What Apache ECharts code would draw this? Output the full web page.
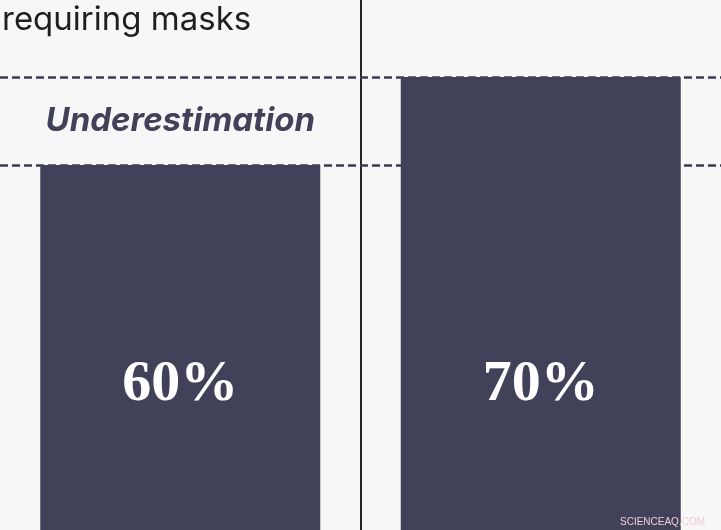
<!DOCTYPE html>
<html>
<head>
<meta charset="utf-8">
<script src="https://cdn.jsdelivr.net/npm/echarts@6/dist/echarts.min.js"></script>
<style>
html,body{margin:0;padding:0;background:#f7f7f7;}
#chart{width:721px;height:530px;}
</style>
</head>
<body>
<div id="chart"></div>
<script>
var categories = ['Estimate', 'Actual'];
var barValues = [60, 70];
var guideValues = [60, 70];
var annotationText = 'Underestimation';
var annotationValue = [65];
var titleText = 'requiring masks';
var watermark = 'SCIENCEAQ.COM';

var chart = echarts.init(document.getElementById('chart'));
chart.setOption({
  backgroundColor: '#f7f7f7',
  animation: false,
  title: {
    text: titleText,
    left: 2,
    top: 1,
    padding: 0,
    textStyle: {
      fontFamily: 'Inter',
      fontWeight: 'normal',
      fontSize: 33,
      lineHeight: 38,
      color: '#1f1f1f'
    }
  },
  grid: { left: 0, right: 0, top: 0, bottom: 0 },
  xAxis: {
    type: 'category',
    data: categories,
    axisLine: { show: false },
    axisTick: { show: false },
    axisLabel: { show: false },
    splitLine: {
      show: true,
      showMinLine: false,
      showMaxLine: false,
      lineStyle: { color: '#262626', width: 2 }
    }
  },
  yAxis: {
    type: 'value',
    min: 18.5,
    max: 78.75,
    show: false,
    splitLine: { show: false }
  },
  series: [
    {
      type: 'bar',
      data: barValues,
      barWidth: 280,
      itemStyle: { color: '#41425a' },
      label: {
        show: true,
        position: 'insideBottom',
        distance: 116,
        formatter: '{c}%',
        fontFamily: 'Liberation Serif',
        fontWeight: 'bold',
        fontSize: 58,
        lineHeight: 58,
        color: '#ffffff'
      },
      markLine: {
        silent: true,
        symbol: 'none',
        z: 1,
        label: { show: false },
        lineStyle: { type: [8, 4], width: 2.5, color: '#3c3d52', opacity: 1 },
        data: guideValues.map(function (v) { return { yAxis: v }; })
      }
    },
    {
      type: 'scatter',
      data: annotationValue.map(function (v, i) { return [i, v]; }),
      symbolSize: 0,
      silent: true,
      itemStyle: { opacity: 1 },
      label: {
        show: true,
        position: 'inside',
        formatter: annotationText,
        fontFamily: 'Inter',
        fontStyle: 'italic',
        fontWeight: 'bold',
        fontSize: 33,
        color: '#41425a',
        opacity: 1
      }
    }
  ],
  graphic: [
    {
      type: 'text',
      right: 16,
      bottom: 3,
      z: 100,
      style: {
        text: watermark,
        fontFamily: 'Liberation Sans',
        fontSize: 10,
        fill: '#f2cdd3'
      }
    }
  ]
});
</script>
</body>
</html>
